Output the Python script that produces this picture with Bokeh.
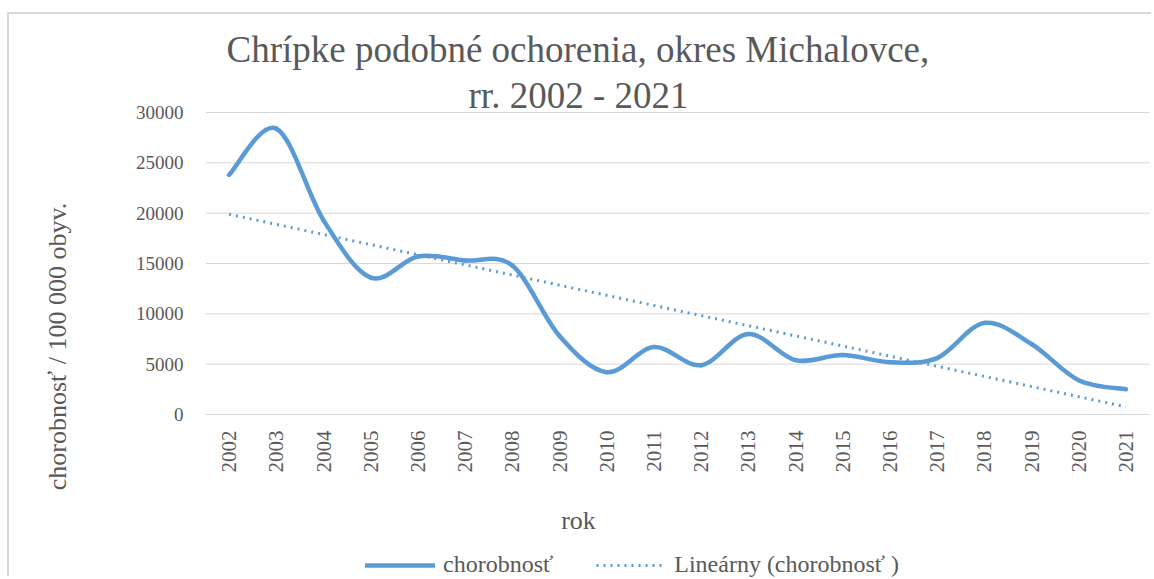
import math
import numpy as np
from bokeh.plotting import figure
from bokeh.models import Legend, LegendItem, FixedTicker, Range1d, Label
from bokeh.embed import file_html
from bokeh.resources import INLINE

years = [2002, 2003, 2004, 2005, 2006, 2007, 2008, 2009, 2010, 2011,
         2012, 2013, 2014, 2015, 2016, 2017, 2018, 2019, 2020, 2021]
chorobnost = [23800, 28400, 19300, 13600, 15700, 15300, 14800, 7800, 4200, 6700,
              4900, 8000, 5400, 5900, 5200, 5600, 9100, 7000, 3400, 2500]
y_ticks = [0, 5000, 10000, 15000, 20000, 25000, 30000]
title_lines = ["Chrípke podobné ochorenia,  okres Michalovce,", "rr. 2002 - 2021"]
x_title = "rok"
y_title = "chorobnosť / 100 000 obyv."
series_name = "chorobnosť"
trend_name = "Lineárny (chorobnosť )"

FONT = "Liberation Serif"
TXT = "#595959"
BLUE = "#5b9bd5"
GRID = "#d9d9d9"

# layout (pixels): the frame fills the whole figure; plot area inside it
W, H = 1144, 564
PA_LEFT, PA_RIGHT, PA_TOP, PA_BOTTOM = 196, 1140, 98, 400   # plot area in figure px
X0, X1 = years[0] - 0.5, years[-1] + 0.5
Y0, Y1 = y_ticks[0], y_ticks[-1]
xpx = (X1 - X0) / (PA_RIGHT - PA_LEFT)
ypx = (Y1 - Y0) / (PA_BOTTOM - PA_TOP)
x_range = Range1d(X0 - PA_LEFT * xpx, X1 + (W - PA_RIGHT) * xpx)
y_range = Range1d(Y0 - (H - PA_BOTTOM) * ypx, Y1 + PA_TOP * ypx)

p = figure(width=W, height=H, output_backend="svg", toolbar_location=None,
           x_range=x_range, y_range=y_range,
           min_border=0, title=None)
p.styles = {"margin-left": "7px", "margin-top": "12px",
            "border-top": "2px solid #d9d9d9", "border-left": "2px solid #d9d9d9"}
p.outline_line_color = None
p.xgrid.visible = False
p.ygrid.visible = False

# horizontal gridlines across the plot area
p.segment(x0=[X0] * len(y_ticks), x1=[X1] * len(y_ticks), y0=y_ticks, y1=y_ticks,
          line_color=GRID, line_width=1)

p.yaxis.ticker = FixedTicker(ticks=y_ticks)
p.xaxis.ticker = FixedTicker(ticks=years)
p.yaxis.fixed_location = X0
p.xaxis.fixed_location = Y0
for ax in (p.xaxis, p.yaxis):
    ax.axis_line_color = None
    ax.major_tick_line_color = None
    ax.minor_tick_line_color = None
    ax.major_tick_out = 0
    ax.major_tick_in = 0
    ax.major_label_text_font = FONT
    ax.major_label_text_color = TXT
p.yaxis.major_label_text_font_size = "19px"
p.yaxis.major_label_standoff = 22
p.xaxis.major_label_text_font_size = "21px"
p.xaxis.major_label_orientation = math.pi / 2
p.xaxis.major_label_standoff = 16

# smoothed series (Catmull-Rom style Bezier segments, like Excel's smoothed line)
xs = np.array(years, dtype=float)
ys = np.array(chorobnost, dtype=float)
xp = np.concatenate([[xs[0]], xs, [xs[-1]]])
yp = np.concatenate([[ys[0]], ys, [ys[-1]]])
x0, y0 = xs[:-1], ys[:-1]
x1, y1 = xs[1:], ys[1:]
cx0 = x0 + (xp[2:-1] - xp[:-3]) / 6.0
cy0 = y0 + (yp[2:-1] - yp[:-3]) / 6.0
cx1 = x1 - (xp[3:] - xp[1:-2]) / 6.0
cy1 = y1 - (yp[3:] - yp[1:-2]) / 6.0
r_main = p.bezier(x0=x0, y0=y0, x1=x1, y1=y1, cx0=cx0, cy0=cy0, cx1=cx1, cy1=cy1,
                  line_color=BLUE, line_width=4.5, line_cap="round")

# linear trend
k, q = np.polyfit(xs, ys, 1)
trend = k * xs + q
r_trend = p.line(xs, trend, line_color=BLUE, line_width=3, line_dash="2 5")

legend = Legend(items=[LegendItem(label=series_name, renderers=[r_main]),
                       LegendItem(label=trend_name, renderers=[r_trend])],
                orientation="horizontal", location=(356, 0),
                label_text_font=FONT, label_text_font_size="24px",
                label_text_color=TXT, glyph_width=70, label_standoff=8,
                spacing=43, padding=0, margin=0, border_line_color=None,
                background_fill_alpha=0)
p.add_layout(legend, "center")

def lab(text, x, y, size, angle=0.0, baseline="alphabetic"):
    p.add_layout(Label(text=text, x=x, y=y, x_units="screen", y_units="screen",
                       text_font=FONT, text_font_size=size, text_color=TXT,
                       text_align="center", text_baseline=baseline, angle=angle))

lab(title_lines[0], 573, 529, "37px")
lab(title_lines[1], 569, 483, "37px")
lab(x_title, 569, 58, "26px")
lab(y_title, 48, 232, "26px", angle=math.pi / 2, baseline="middle")

open("out.html", "w").write(file_html(p, INLINE))
